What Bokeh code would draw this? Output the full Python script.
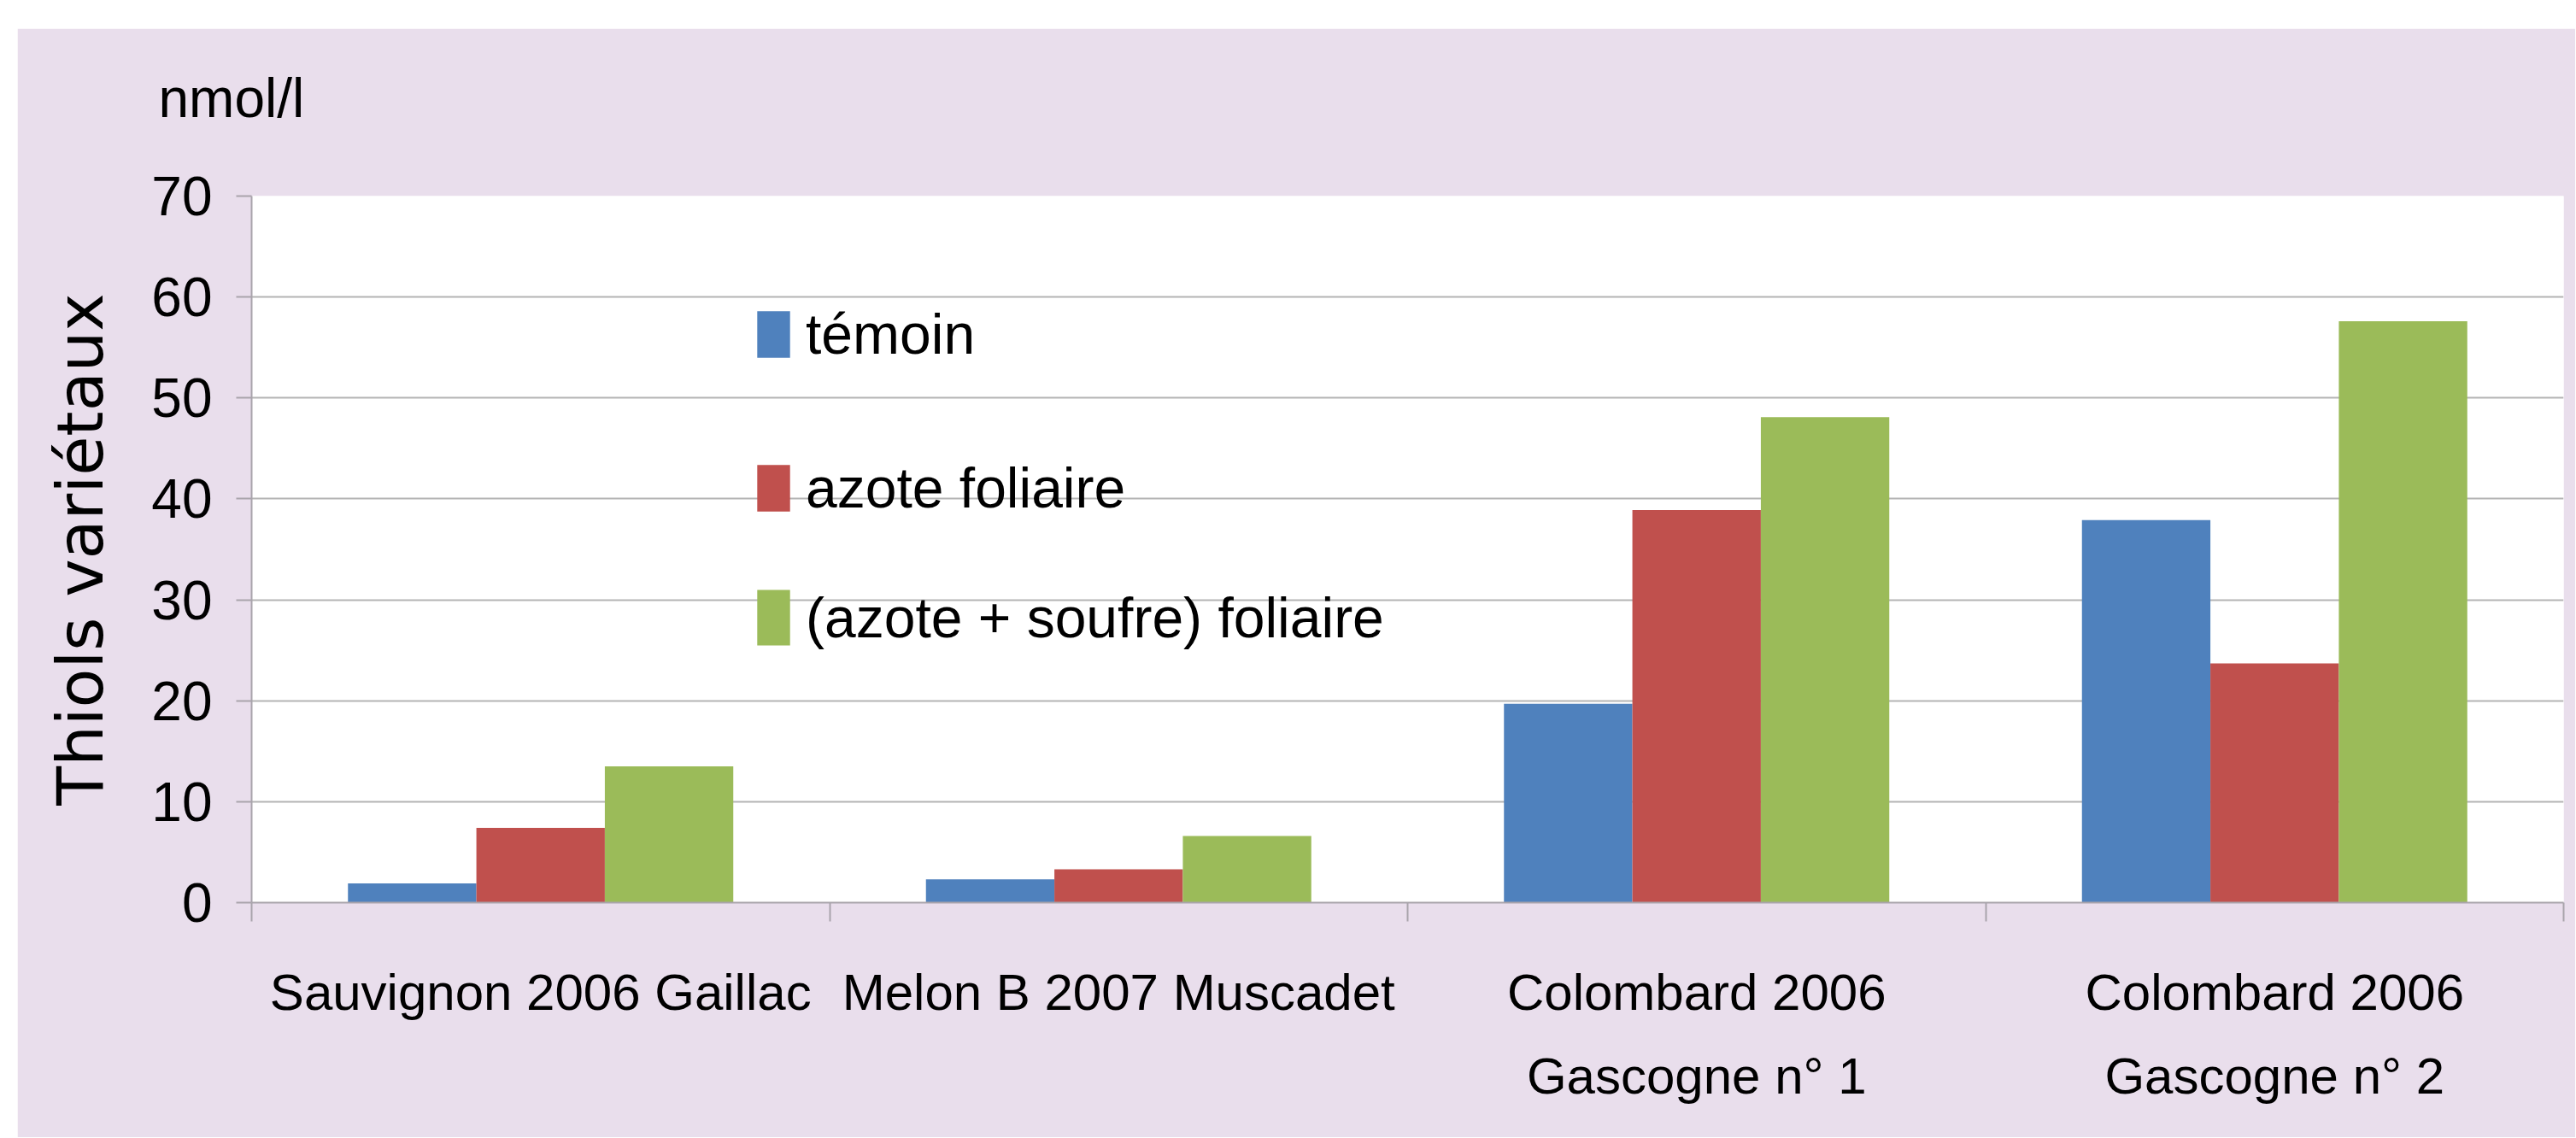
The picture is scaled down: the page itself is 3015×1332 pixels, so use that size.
import numpy as np
from bokeh.plotting import figure
from bokeh.models import Range1d, FixedTicker, Legend, LegendItem, Label
from bokeh.embed import file_html
from bokeh.resources import INLINE

# ---------------- data ----------------
categories = [
    "Sauvignon 2006 Gaillac",
    "Melon B 2007 Muscadet",
    "Colombard 2006\nGascogne n° 1",
    "Colombard 2006\nGascogne n° 2",
]
series_names = ["témoin", "azote foliaire", "(azote + soufre) foliaire"]
temoin = [1.9, 2.3, 19.7, 37.9]
azote_foliaire = [7.4, 3.3, 38.9, 23.7]
azote_soufre_foliaire = [13.5, 6.6, 48.1, 57.6]
y_ticks = [0, 10, 20, 30, 40, 50, 60, 70]
unit_label = "nmol/l"
y_title = "Thiols variétaux"

# ---------------- style ----------------
PINK = "#E9DEEC"
COLORS = ["#4F81BD", "#C0504D", "#9BBB59"]
GRID = "#B4B4B4"
AXIS = "#A9A4AB"
FONT = "Liberation Sans"

W, H = 2994, 1298
n = len(categories)

p = figure(
    width=W, height=H,
    output_backend="svg", toolbar_location=None,
    x_range=Range1d(0, n), y_range=Range1d(0, 70),
    min_border_left=274, min_border_right=14,
    min_border_top=196, min_border_bottom=275,
    background_fill_color="white", border_fill_color=PINK,
    outline_line_color=None,
)
p.margin = (33, 0, 0, 20)

# bars (Excel-like: gap width 150%)
centers = np.arange(n) + 0.5
bar_w = 1 / 4.5
offsets = [-bar_w, 0.0, bar_w]
series = [temoin, azote_foliaire, azote_soufre_foliaire]
renderers = []
for vals, off, col in zip(series, offsets, COLORS):
    r = p.vbar(x=centers + off, top=vals, width=bar_w, bottom=0,
               fill_color=col, line_color=None)
    renderers.append(r)

# grid
p.xgrid.grid_line_color = None
p.ygrid.grid_line_color = GRID
p.ygrid.grid_line_width = 2

# y axis
yax = p.yaxis[0]
yax.ticker = FixedTicker(ticks=y_ticks)
yax.axis_line_color = AXIS
yax.axis_line_width = 2
yax.major_tick_line_color = AXIS
yax.major_tick_line_width = 2
yax.major_tick_out = 18
yax.major_tick_in = 0
yax.minor_tick_line_color = None
yax.major_label_standoff = 28
yax.major_label_text_font = FONT
yax.major_label_text_font_size = "64px"
yax.major_label_text_color = "black"
yax.axis_label = y_title
yax.axis_label_text_font = "DejaVu Sans"
yax.axis_label_text_font_size = "75px"
yax.axis_label_text_font_style = "normal"
yax.axis_label_text_color = "black"
yax.axis_label_standoff = 36

# x axis: labels at category centers, ticks at category boundaries
xax = p.xaxis[0]
xax.ticker = FixedTicker(ticks=list(centers), minor_ticks=list(range(n + 1)))
xax.major_label_overrides = {float(c): lab for c, lab in zip(centers, categories)}
xax.axis_line_color = AXIS
xax.axis_line_width = 2
xax.major_tick_line_color = None
xax.major_tick_out = 0
xax.major_tick_in = 0
xax.minor_tick_line_color = AXIS
xax.minor_tick_line_width = 2
xax.minor_tick_out = 22
xax.minor_tick_in = 0
xax.major_label_standoff = 49
xax.major_label_text_font = FONT
xax.major_label_text_font_size = "60px"
xax.major_label_text_color = "black"
xax.major_label_text_line_height = 1.47

# unit label in the top panel, left of the frame
p.add_layout(Label(x=-109, y=115, x_units="screen", y_units="screen",
                   text=unit_label, text_font=FONT, text_font_size="64px",
                   text_align="left", text_baseline="alphabetic",
                   text_color="black"), "above")

# legends (one per item, positioned like the original)
leg_y = [627, 447, 293]
glyph_h = [68, 68, 81]
for name, r, ly, gh in zip(series_names, renderers, leg_y, glyph_h):
    leg = Legend(
        items=[LegendItem(label=name, renderers=[r])],
        location=(587, ly),
        glyph_width=48, glyph_height=gh,
        label_standoff=14, padding=0, margin=0,
        border_line_color=None, background_fill_alpha=0,
        label_text_font=FONT, label_text_font_size="66px",
        label_text_color="black",
    )
    p.add_layout(leg)

open("out.html", "w").write(file_html(p, INLINE))
